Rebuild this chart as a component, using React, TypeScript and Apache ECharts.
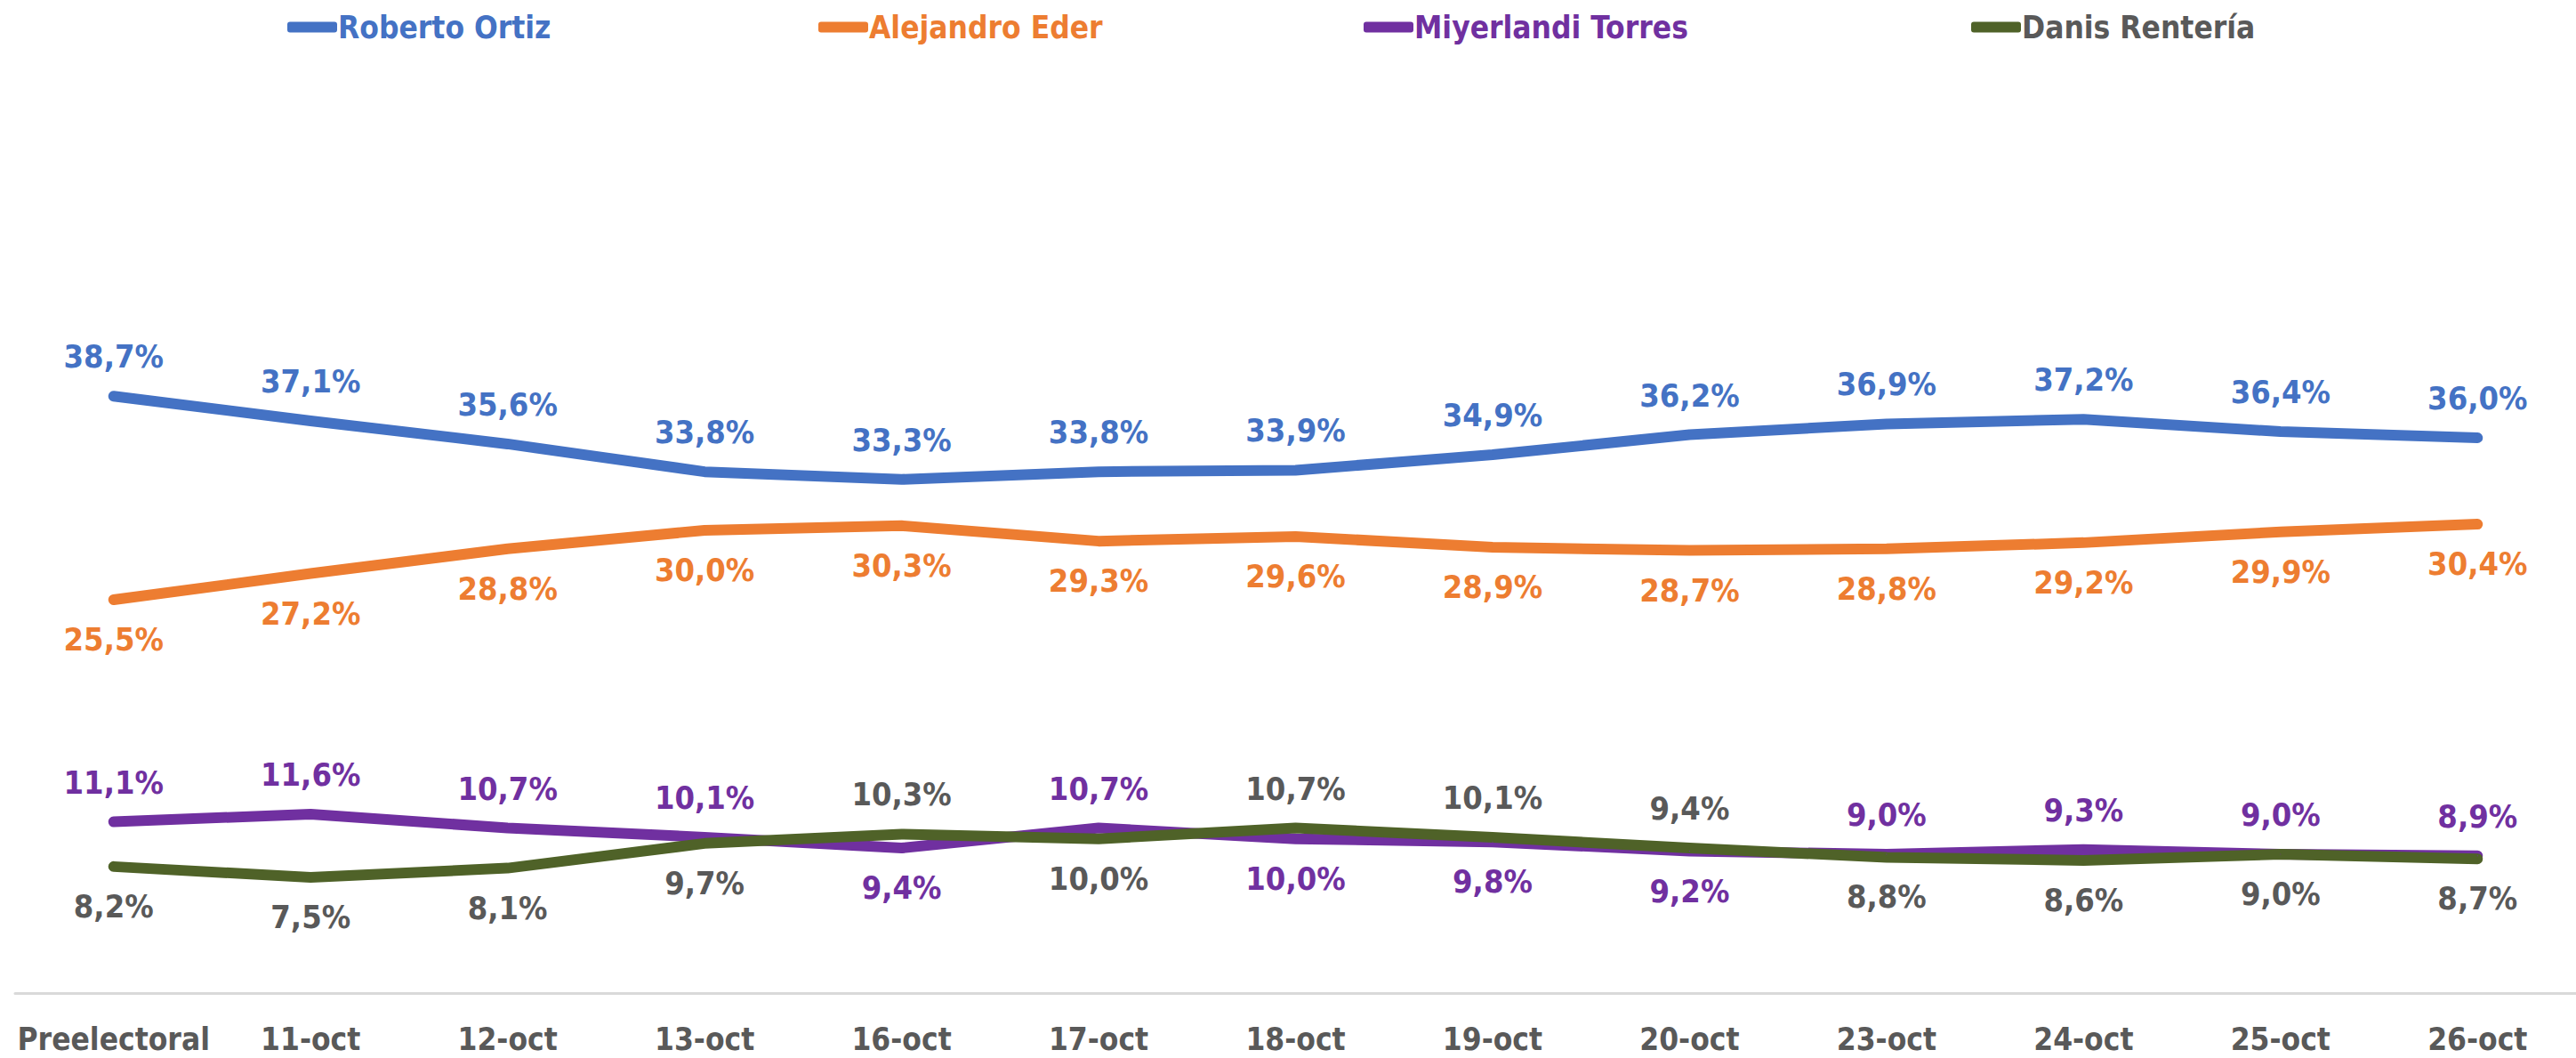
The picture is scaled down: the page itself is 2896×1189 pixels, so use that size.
import React, { useEffect, useRef } from "react";
import * as echarts from "echarts";

const categories = ["Preelectoral", "11-oct", "12-oct", "13-oct", "16-oct", "17-oct", "18-oct", "19-oct", "20-oct", "23-oct", "24-oct", "25-oct", "26-oct"];
const robertoOrtiz = [38.7, 37.1, 35.6, 33.8, 33.3, 33.8, 33.9, 34.9, 36.2, 36.9, 37.2, 36.4, 36.0];
const alejandroEder = [25.5, 27.2, 28.8, 30.0, 30.3, 29.3, 29.6, 28.9, 28.7, 28.8, 29.2, 29.9, 30.4];
const miyerlandiTorres = [11.1, 11.6, 10.7, 10.1, 9.4, 10.7, 10.0, 9.8, 9.2, 9.0, 9.3, 9.0, 8.9];
const danisRenteria = [8.2, 7.5, 8.1, 9.7, 10.3, 10.0, 10.7, 10.1, 9.4, 8.8, 8.6, 9.0, 8.7];

const FONT = "'DejaVu Sans Condensed', 'Noto Sans', sans-serif";
const fmt = (v: number) => `${v.toFixed(1).replace(".", ",")}%`;

export default function App() {
  const ref = useRef<HTMLDivElement>(null);
  useEffect(() => {
    if (!ref.current) return;
    const chart = echarts.init(ref.current, undefined, { renderer: "svg" });

    const mk = (
      name: string,
      values: number[],
      color: string,
      labelColor: string,
      positions: ("top" | "bottom")[]
    ) => ({
      name,
      type: "line",
      data: values.map((v, i) => ({ value: v, label: { position: positions[i] } })),
      symbol: "circle",
      symbolSize: 1,
      showSymbol: true,
      itemStyle: { color },
      lineStyle: { color, width: 12, cap: "round", join: "round" },
      label: {
        show: true,
        formatter: (p: any) => fmt(p.value),
        color: labelColor,
        fontFamily: FONT,
        fontWeight: "bold",
        fontSize: 36,
        lineHeight: 36,
        distance: 26,
      },
      emphasis: { disabled: true },
    });

    const miyerPos = miyerlandiTorres.map((v, i) => (v >= danisRenteria[i] ? "top" : "bottom")) as ("top" | "bottom")[];
    const danisPos = miyerPos.map((p) => (p === "top" ? "bottom" : "top")) as ("top" | "bottom")[];

    const legendItem = (name: string, left: number, color: string) => ({
      data: [{ name, icon: "roundRect" }],
      left,
      top: 13,
      itemWidth: 56,
      itemHeight: 12,
      itemGap: 0,
      padding: 0,
      textStyle: { color, fontFamily: FONT, fontWeight: "bold", fontSize: 35, padding: [0, 0, 0, -4] },
      selectedMode: false,
    });

    chart.setOption({
      animation: false,
      backgroundColor: "#ffffff",
      legend: [
        legendItem("Roberto Ortiz", 323, "#4472C4"),
        legendItem("Alejandro Eder", 920, "#ED7D31"),
        legendItem("Miyerlandi Torres", 1533, "#7030A0"),
        legendItem("Danis Rentería", 2216, "#595959"),
      ],
      grid: { left: 17, top: 336, width: 2912, height: 780, containLabel: false },
      xAxis: {
        type: "category",
        data: categories,
        boundaryGap: true,
        axisLine: { show: true, lineStyle: { color: "#D9D9D9", width: 3 } },
        axisTick: { show: false },
        axisLabel: {
          color: "#595959",
          fontFamily: FONT,
          fontWeight: "bold",
          fontSize: 35,
          lineHeight: 35,
          margin: 34,
          interval: 0,
        },
      },
      yAxis: {
        type: "value",
        min: 0,
        max: 45,
        interval: 5,
        show: false,
        splitLine: { show: false },
      },
      series: [
        mk("Roberto Ortiz", robertoOrtiz, "#4472C4", "#4472C4", robertoOrtiz.map(() => "top")),
        mk("Alejandro Eder", alejandroEder, "#ED7D31", "#ED7D31", alejandroEder.map(() => "bottom")),
        mk("Miyerlandi Torres", miyerlandiTorres, "#7030A0", "#7030A0", miyerPos),
        mk("Danis Rentería", danisRenteria, "#4F6228", "#595959", danisPos),
      ],
    });
    return () => chart.dispose();
  }, []);
  return <div ref={ref} style={{ position: "fixed", left: 0, top: 0, width: 2896, height: 1189 }} />;
}
